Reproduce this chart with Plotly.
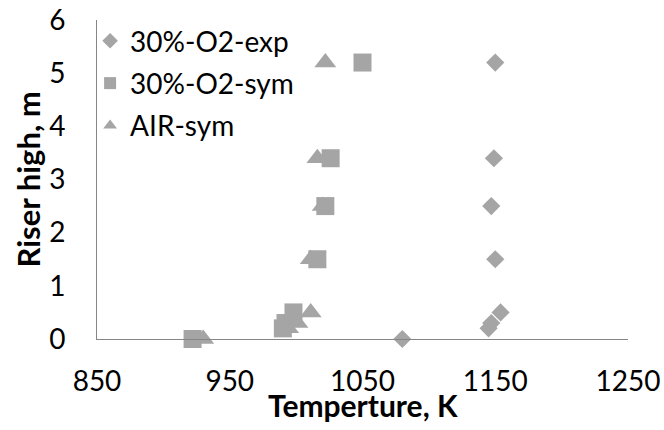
import plotly.graph_objects as go

heights = [0, 0.2, 0.3, 0.5, 1.5, 2.5, 3.4, 5.2]
exp_o2_temp = [1080, 1145, 1147, 1154, 1150, 1147, 1149, 1150]
sym_o2_temp = [922, 990, 992, 998, 1016, 1022, 1026, 1050]
sym_air_temp = [930, 994, 1001, 1011, 1011, 1020, 1016, 1022]

names = ["30%-O2-exp", "30%-O2-sym", "AIR-sym"]
x_title = "<b>Temperture, K</b>"
y_title = "<b>Riser high, m</b>"
marker_color = "#A5A5A5"
font_family = "Lato, 'Open Sans', sans-serif"

fig = go.Figure()
fig.add_trace(go.Scatter(x=exp_o2_temp, y=heights, mode="markers", name=names[0],
                         legendgroup="a", cliponaxis=False,
                         marker=dict(symbol="diamond", size=14, color=marker_color)))
fig.add_trace(go.Scatter(x=sym_o2_temp, y=heights, mode="markers", name=names[1],
                         legendgroup="b", cliponaxis=False,
                         marker=dict(symbol="square", size=18, color=marker_color)))
fig.add_trace(go.Scatter(x=sym_air_temp, y=heights, mode="markers", name=names[2],
                         legendgroup="c", cliponaxis=False,
                         marker=dict(symbol="triangle-up", size=19, color=marker_color)))

fig.update_layout(
    width=664, height=430,
    margin=dict(l=97, r=36, t=20, b=91),
    paper_bgcolor="white", plot_bgcolor="white",
    font=dict(family=font_family, size=28, color="black"),
    showlegend=True,
    legend=dict(x=-0.013, y=1.0125, xanchor="left", yanchor="top",
                bgcolor="rgba(0,0,0,0)", font=dict(size=28),
                tracegroupgap=3, itemsizing="constant"),
    xaxis=dict(range=[850, 1250], tickvals=[850, 950, 1050, 1150, 1250],
               showgrid=False, zeroline=False, showline=True, linecolor="#868686",
               linewidth=1, ticks="", ticklabelstandoff=17, automargin=False,
               ticklabeloverflow="allow"),
    yaxis=dict(range=[0, 6], tickvals=[0, 1, 2, 3, 4, 5, 6],
               showgrid=False, zeroline=False, showline=True, linecolor="#868686",
               linewidth=1, ticks="", ticklabelstandoff=25, automargin=False,
               ticklabeloverflow="allow"),
    annotations=[
        dict(text=x_title, xref="paper", yref="paper", x=0.5, y=0,
             xanchor="center", yanchor="middle", yshift=-66, showarrow=False,
             font=dict(size=30)),
        dict(text=y_title, xref="paper", yref="paper", x=0, y=0.5,
             xanchor="center", yanchor="middle", xshift=-70, showarrow=False,
             textangle=-90, font=dict(size=31)),
    ],
)

fig.write_html("out.html", config={"displayModeBar": False},
               post_script="document.body.style.margin='0';")
